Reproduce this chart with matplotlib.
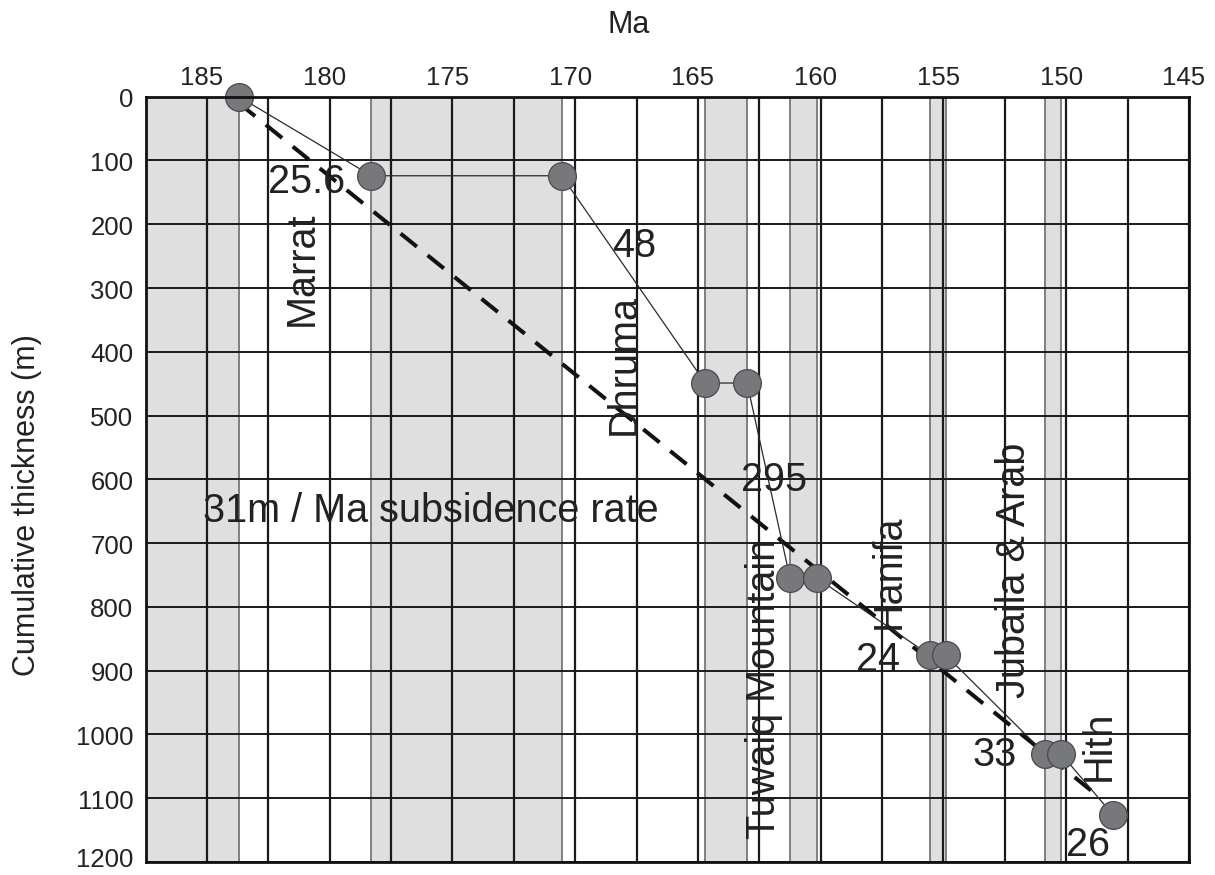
import matplotlib
matplotlib.use('Agg')
import matplotlib.pyplot as plt
from matplotlib.transforms import ScaledTranslation
import numpy as np

plt.rcParams['font.family'] = ['Liberation Sans', 'DejaVu Sans']

# ---------------- data ----------------
ages_ma = [183.7, 178.3, 170.55, 164.7, 163.0, 161.25, 160.15, 155.55, 154.9, 150.85, 150.2, 148.1]
thickness_m = [0, 124, 124, 449, 449, 755, 755, 876, 876, 1031, 1031, 1126]

shade_bands = [(187.5, 183.7), (178.3, 170.55), (164.7, 163.0),
               (161.25, 160.15), (155.55, 154.9), (150.85, 150.2)]

rate_line_ma = [183.7, 148.6]
rate_line_m = [10, 1100]

x_major = [185, 180, 175, 170, 165, 160, 155, 150, 145]
x_minor = [182.5, 177.5, 172.5, 167.5, 162.5, 157.5, 152.5, 147.5]
y_ticks = [0, 100, 200, 300, 400, 500, 600, 700, 800, 900, 1000, 1100, 1200]

# rate labels (horizontal): text, age, thickness (baseline)
rate_labels = [("25.6", 180.93, 151), ("48", 167.6, 251), ("295", 161.9, 618),
               ("24", 157.66, 900), ("33", 152.9, 1049), ("26", 149.1, 1190)]
# formation labels (vertical): text, age (baseline), thickness (centre)
formation_labels = [("Marrat", 180.67, 270), ("Dhruma", 167.56, 420),
                    ("Tuwaiq Mountain", 161.86, 929), ("Hanifa", 156.8, 745),
                    ("Jubaila & Arab", 151.68, 742), ("Hith", 148.24, 1017)]
subsidence_text = ("31m / Ma subsidence rate", 185.15, 667)

# ---------------- figure ----------------
fig = plt.figure(figsize=(12.15, 8.75), dpi=100)
ax = fig.add_axes([0.1198, 0.0149, 0.8588, 0.8746])
ax.set_xlim(187.5, 145)
ax.set_ylim(1200, 0)

for a0, a1 in shade_bands:
    ax.axvspan(a0, a1, facecolor='#dfdfdf', edgecolor='none', zorder=0.5)
    for edge in (a0, a1):
        ax.axvline(edge, color='#777777', lw=1.3, zorder=0.6)

ax.set_xticks(x_major)
ax.set_xticks(x_minor, minor=True)
ax.set_yticks(y_ticks)
ax.grid(True, which='both', axis='x', color='#1a1a1a', lw=1.6)
ax.grid(True, which='major', axis='y', color='#1a1a1a', lw=1.4)

ax.xaxis.tick_top()
ax.tick_params(axis='both', which='both', length=0)
ax.tick_params(axis='x', labelsize=18.5, pad=4.5, colors='#222222')
ax.tick_params(axis='y', labelsize=18.5, pad=8.7, colors='#222222')
for lab in ax.get_xticklabels():
    lab.set_transform(lab.get_transform() + ScaledTranslation(-5 / 100, 0, fig.dpi_scale_trans))
ylabs = ax.get_yticklabels()
for i, lab in enumerate(ylabs):
    dy = 4 if i == len(ylabs) - 1 else -1
    lab.set_transform(lab.get_transform() + ScaledTranslation(0, dy / 100, fig.dpi_scale_trans))

for sp in ax.spines.values():
    sp.set_linewidth(2.0)
    sp.set_color('#111111')
    sp.set_zorder(5)

# subsidence trend (dashed)
ax.plot(rate_line_ma, rate_line_m, color='#111111', lw=2.9, dashes=(5.2, 3.4),
        dash_capstyle='butt', zorder=3)

# connecting line
ax.plot(ages_ma, thickness_m, color='#2a2a2a', lw=0.9, zorder=3.5)

# points
for a, t in zip(ages_ma, thickness_m):
    ax.plot([a], [t], 'o', ms=20, mfc='#77787c', mec='#4a4a4a', mew=0.9,
            zorder=4, clip_on=False)

ann_kw = dict(fontsize=28.5, color='#222222', zorder=6)
for txt, a, t in rate_labels:
    ax.text(a, t, txt, ha='center', va='baseline', **ann_kw)
for txt, a, t in formation_labels:
    ax.text(a, t, txt, rotation=90, rotation_mode='anchor', ha='center',
            va='baseline', **ann_kw)
ax.text(subsidence_text[1], subsidence_text[2], subsidence_text[0],
        ha='left', va='baseline', **ann_kw)

fig.text(629 / 1215, 1 - 33 / 875, 'Ma', ha='center', va='baseline',
         fontsize=22, color='#222222')
fig.text(35 / 1215, 1 - 505 / 875, 'Cumulative thickness (m)', rotation=90,
         rotation_mode='anchor', ha='center', va='baseline', fontsize=22,
         color='#222222')

fig.savefig('out.png', dpi=100)
